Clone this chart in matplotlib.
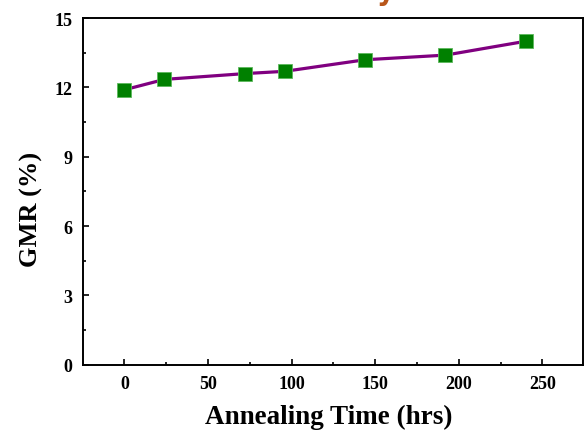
import numpy as np
import matplotlib
matplotlib.use("Agg")
import matplotlib.pyplot as plt
from matplotlib.ticker import MultipleLocator

# Annealing data
time_hrs = [0, 24, 72, 96, 144, 192, 240]
gmr_pct = [11.9, 12.35, 12.6, 12.7, 13.2, 13.4, 14.0]

x_ticks = [0, 50, 100, 150, 200, 250]
y_ticks = [0, 3, 6, 9, 12, 15]

plt.rcParams['font.family'] = ['Liberation Serif', 'DejaVu Serif']

fig = plt.figure(figsize=(5.87, 4.35), dpi=100)
ax = fig.add_axes([0.142, 0.159, 0.852, 0.797])

ax.plot(time_hrs, gmr_pct, color="#800080", linewidth=2.3, zorder=2)
ax.plot(time_hrs, gmr_pct, linestyle="none", marker="s", markersize=10.5,
        markerfacecolor="#008000", markeredgecolor="#5cb85c",
        markeredgewidth=0.6, zorder=3)

ax.set_xlim(-24.5, 274.5)
ax.set_ylim(0, 15)
ax.set_xticks(x_ticks)
ax.set_yticks(y_ticks)
ax.xaxis.set_minor_locator(MultipleLocator(25))
ax.yaxis.set_minor_locator(MultipleLocator(1.5))

ax.tick_params(which="both", direction="in", top=False, right=False,
               width=1.2, labelsize=13)
ax.tick_params(which="major", length=4)
ax.tick_params(which="minor", length=2)
for lab in ax.get_xticklabels() + ax.get_yticklabels():
    lab.set_fontweight("bold")
ax.tick_params(axis="x", pad=7)
ax.tick_params(axis="y", pad=8)

for s in ax.spines.values():
    s.set_linewidth(1.4)

ax.set_xlabel("Annealing Time (hrs)", fontsize=19.5, fontweight="bold",
              labelpad=9, x=0.49)
ax.set_ylabel("GMR (%)", fontsize=19, fontweight="bold", labelpad=8, y=0.45)

# clipped title fragment at the top edge
fig.text(0.642, 1.0, "y", fontsize=20, color="#b8561a", fontweight="bold",
         va="baseline", ha="left", family="DejaVu Sans")

fig.savefig("out.png", dpi=100)
